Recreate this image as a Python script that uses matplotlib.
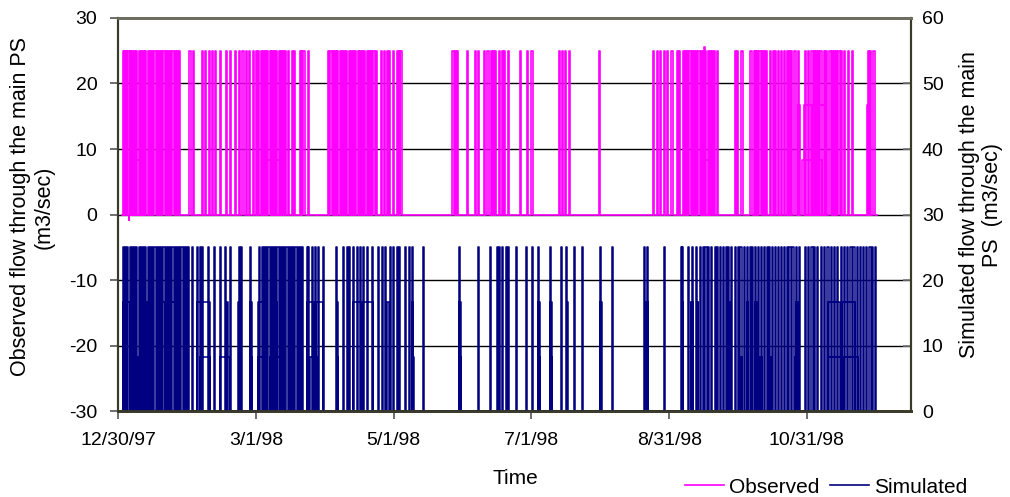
import matplotlib
matplotlib.use('Agg')
import matplotlib.pyplot as plt
from matplotlib.lines import Line2D

plt.rcParams['font.family'] = ['Liberation Sans', 'DejaVu Sans']
plt.rcParams['axes.unicode_minus'] = False

# days after 12/30/97
tick_days = [0, 61, 122, 183, 244, 305]
tick_labels = ['12/30/97', '3/1/98', '5/1/98', '7/1/98', '8/31/98', '10/31/98']
x_end = 351
series_start = 1.5
series_end = 336

# observed pumping pulses at full flow (25 m3/sec)
obs_days = [2, 2.5, 3.5, 4.5, 5, 6, 7, 8, 9, 10, 11, 12, 13, 14, 15, 16, 17, 18, 19, 20,
            21, 22, 23, 24, 25, 26, 27, 31.5, 33,
            37, 38.5, 40, 41.5, 43, 45, 47.5, 49.5, 51.5, 53.5, 55, 56.5, 58, 59.5, 61, 62,
            63, 64, 65, 66, 67, 68, 69, 70, 71, 72, 73, 74, 75, 77, 78, 80.5, 81, 82, 84,
            93, 94, 95, 96, 97, 98, 99, 100, 101, 102, 103, 104, 105, 106, 107, 108, 109,
            110, 111, 112, 113, 114, 116.5, 117.5, 119, 120, 121.5, 123.5, 124.5, 125,
            148, 149, 150, 154.5, 158, 159.5, 162, 163.5, 165, 166, 167, 168.5, 170, 171,
            172.5, 178, 181, 183, 195, 196.5, 198, 199.5,
            213, 237, 238.5, 240, 241.5, 243, 245, 247.5, 248.5, 250, 251, 252, 253, 254,
            255, 256, 257, 258, 259, 260, 261, 262, 263, 264, 265, 273, 274, 276, 280, 281.5,
            282, 283, 284, 285, 286, 287, 288.5, 290, 291, 292, 293.5, 295, 296, 297, 298,
            299.5, 301, 304, 305.5, 307, 308, 309, 310, 311, 312.5, 313.5, 315, 316, 317,
            318, 319, 320, 321.5, 323, 325, 332, 333, 334.5]
obs_full = 25.0

# observed partial-flow periods
obs_part_start = [4.6, 5.9, 66, 258, 258, 259.5, 301, 303, 303.6, 308.1, 308.5, 331.5]
obs_part_end = [4.8, 11.1, 71.6, 262, 259, 259.7, 302, 307.2, 307.2, 313, 311.6, 332.9]
obs_part_level = [-0.8, 8.3, 8.3, 8.3, 16.7, 25.6, 16.7, 8.3, 16.7, 16.7, 8.3, 16.7]

# simulated pumping pulses at full flow (25 m3/sec)
sim_days = [2, 3, 4, 5, 6, 7, 8, 9, 10, 11, 12, 13, 14, 15, 16, 17, 18, 19, 20, 21, 22,
            23, 24, 25, 26, 27, 28, 29, 30, 31, 32.5,
            34.8, 36.2, 37.2, 39.9, 42.5, 45, 47.3, 49.5, 53.5, 54.2, 58.3,
            62.3, 63.5, 64.5, 65.5, 66.5, 67.5, 68.5, 69.4, 70.5, 71.5, 72.5, 73.5, 74.5,
            75.5, 76.5, 77.5, 78.5, 79.5, 80.5, 81.2,
            83.4, 84.1, 85.6, 87.1, 88.6, 90.8, 96.4, 99.6, 101.1, 102.2, 104.1, 105.6,
            107, 108.5, 110, 112.5, 115.2, 116.7, 118.1, 120.3, 121.8, 123.3, 124.3, 127,
            128.9, 129.9, 135.1, 151, 159.4, 164.6, 167.6, 168.7, 169.8, 171.7, 172.7,
            176.1, 180.6, 183.3, 186, 191.2, 195.9, 198.1, 202, 205.5, 213.3, 218.5,
            232.9, 234, 241.5, 249.1, 249.8, 252.4, 254.2, 255.9,
            257.6, 258.8, 260.1, 261.3, 262.5, 264.3, 265.3, 266.5, 267.8, 269.3, 270.2,
            271.5, 273, 274.5, 275.6, 277, 278.3, 279.7, 280.6, 282, 283.3, 284.7, 285.8,
            287.3, 288.3, 289.5, 291, 292.2, 293.5, 295, 296.2, 297.3, 298.6, 300, 301.4,
            304.1, 305.3, 307, 308.2, 309.6, 311.3, 312.5, 314.1, 315.6, 317, 318.3, 319.9,
            321.3, 322.7, 324.3, 325.6, 327, 328.4, 330, 331.2, 332.7, 334, 335.1]
sim_full = 25.0

# simulated partial-flow periods
sim_part_start = [2, 12.6, 17, 21.5, 34.7, 48, 53.1, 58.3, 62, 68.6, 76, 83.4, 87.5, 96.7, 104, 108.5, 118.9,
                  8.9, 29.5, 36.2, 45, 58.3, 62, 67, 84.9, 96.7,
                  129.9, 151, 186, 191.2, 198.6, 213.3, 234, 253.9, 256.2,
                  130.3, 151, 186, 191.2, 234,
                  233.7, 249.5, 253.9, 256.2, 270.2, 278.3, 282, 300.4, 314.4, 320.5,
                  233.7, 275.3, 284.2, 288.6, 299.7, 314.4, 321]
sim_part_end = [5, 15.5, 20.5, 25.9, 40.6, 48.8, 53.9, 59.1, 64.2, 70.1, 76.8, 86.5, 90.8, 97.5, 107.5, 112.9, 119.7,
                9.6, 30.3, 40.6, 49.5, 59.1, 66, 71.6, 87.9, 97.5,
                130.7, 151.8, 186.8, 192, 199.4, 214.1, 234.8, 254.7, 257,
                131.1, 151.8, 186.8, 192, 234.8,
                234.5, 250.3, 254.7, 257, 271, 279.1, 282.8, 301.2, 319.5, 326.3,
                234.5, 276.1, 285, 289.4, 301.2, 320, 327.7]
sim_part_level = [16.7] * 17 + [8.3] * 9 + [16.7] * 9 + [8.3] * 5 + [16.7] * 10 + [8.3] * 7

pulse_len = 0.5


def build_series(days, full, p_start, p_end, p_level):
    events = [(d, d + pulse_len, full) for d in days]
    events += list(zip(p_start, p_end, p_level))
    events.sort()
    xs = [series_start]
    ys = [0]
    for s, e, v in events:
        xs += [s, s, e, e]
        ys += [0, v, v, 0]
    xs.append(series_end)
    ys.append(0)
    return xs, ys


obs_x, obs_y = build_series(obs_days, obs_full, obs_part_start, obs_part_end, obs_part_level)
sim_x, sim_y = build_series(sim_days, sim_full, sim_part_start, sim_part_end, sim_part_level)

fig = plt.figure(figsize=(10.10, 4.97), dpi=100)
ax = fig.add_axes([0.1171, 0.173, 0.7846, 0.7908])
ax2 = ax.twinx()

ax.plot(obs_x, obs_y, color='#FF00FF', lw=1.2, zorder=3)
ax2.plot(sim_x, sim_y, color='#000080', lw=1.1, zorder=2)

ax.set_xlim(0, x_end)
ax.set_ylim(-30, 30)
ax2.set_ylim(0, 60)
ax.set_yticks([-30, -20, -10, 0, 10, 20, 30])
ax2.set_yticks([0, 10, 20, 30, 40, 50, 60])
ax.set_xticks(tick_days)
ax.set_xticklabels(tick_labels)

for yv in [-20, -10, 0, 10, 20]:
    ax.axhline(yv, color='black', lw=1.0, zorder=1)

ax.tick_params(axis='both', labelsize=14, length=6, width=1.2, color='#555555')
ax.tick_params(axis='x', pad=9)
ax.tick_params(axis='y', pad=9)
ax2.tick_params(axis='y', labelsize=14, length=6, width=1.2, direction='in', pad=8, color='#777777')

for a in (ax, ax2):
    a.spines['top'].set_color('#6e6e60')
    a.spines['top'].set_linewidth(2)
    a.spines['bottom'].set_color('#3a3a2a')
    a.spines['bottom'].set_linewidth(2)
    a.spines['left'].set_color('#3a3a2a')
    a.spines['left'].set_linewidth(1.5)
    a.spines['right'].set_color('#3a3a2a')
    a.spines['right'].set_linewidth(1.5)

fig.text(32 / 1010, 1 - 207 / 497, 'Observed flow through the main PS\n(m3/sec)',
         rotation=90, ha='center', va='center', multialignment='center',
         fontsize=15.5, linespacing=1.15)
fig.text(981 / 1010, 1 - 205 / 497, 'Simulated flow through the main\nPS  (m3/sec)',
         rotation=90, ha='center', va='center', multialignment='center',
         fontsize=15.5, linespacing=1.15)
fig.text(515 / 1010, 1 - 479 / 497, 'Time', ha='center', va='center', fontsize=15)

handles = [Line2D([], [], color='#FF00FF', lw=1.2), Line2D([], [], color='#000080', lw=1.2)]
fig.legend(handles, ['Observed', 'Simulated'], loc='lower right',
           bbox_to_anchor=(0.976, -0.037), ncol=2, frameon=False, fontsize=15,
           handlelength=1.85, handletextpad=0.25, columnspacing=0.5)

fig.savefig('out.png', dpi=100)
